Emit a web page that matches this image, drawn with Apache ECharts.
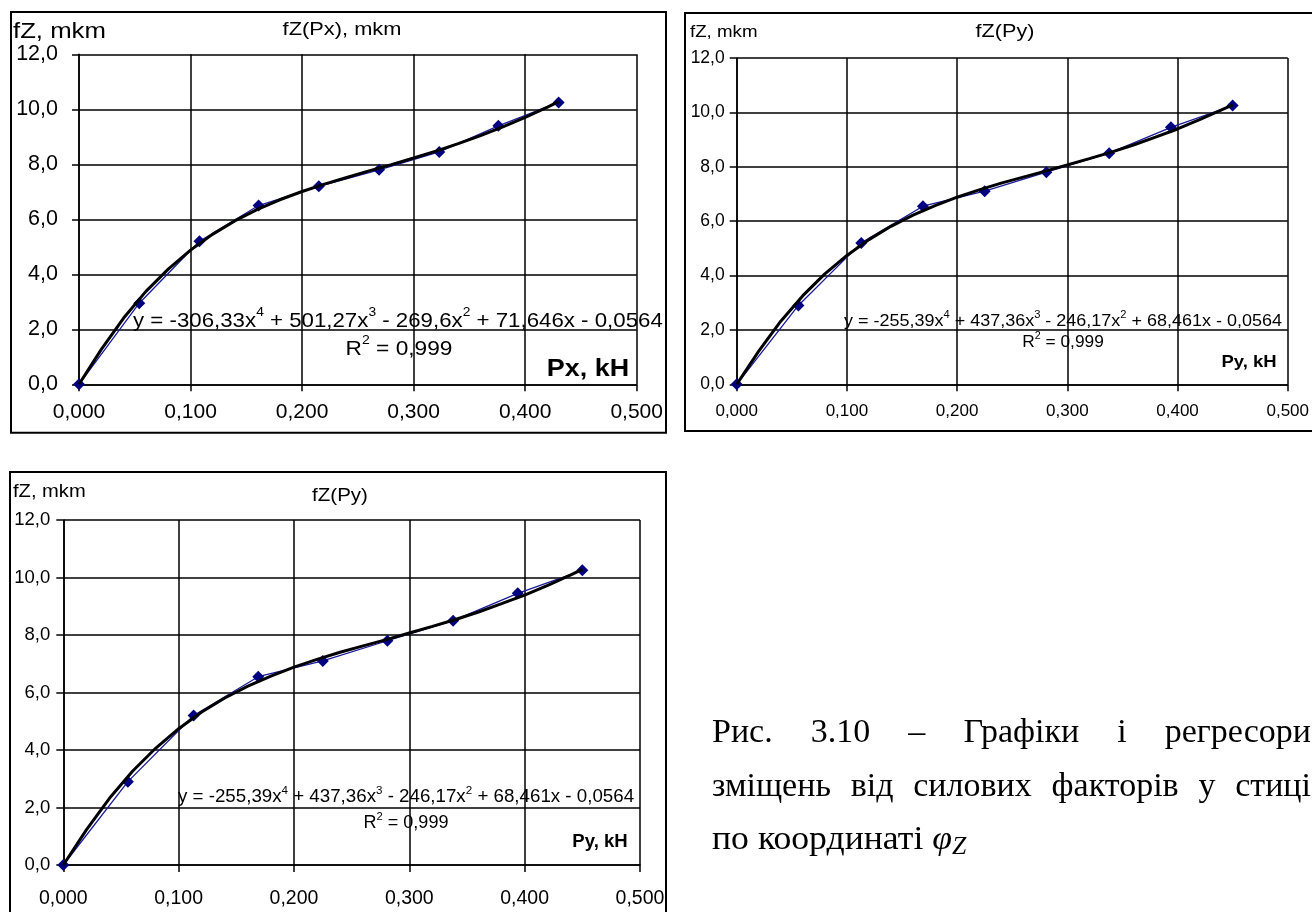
<!DOCTYPE html>
<html><head><meta charset="utf-8">
<script src="https://cdn.jsdelivr.net/npm/echarts@6/dist/echarts.min.js"></script>
<style>html,body{margin:0;padding:0;background:#fff}#c{width:1312px;height:912px}</style>
</head><body><div id="c"></div>
<script>
// ---------- DATA ----------
const xTickLabels = ['0,000', '0,100', '0,200', '0,300', '0,400', '0,500'];
const yTickLabels = ['0,0', '2,0', '4,0', '6,0', '8,0', '10,0', '12,0'];

// Chart 1: fZ(Px)
const px1 = [0, 0.054, 0.108, 0.161, 0.215, 0.269, 0.323, 0.376, 0.430];
const fz1 = [0, 2.95, 5.2, 6.5, 7.2, 7.8, 8.45, 9.4, 10.25];
const trendX1 = [0, 0.02, 0.04, 0.06, 0.08, 0.10, 0.12, 0.14, 0.16, 0.18, 0.20, 0.22, 0.24, 0.26, 0.28, 0.30, 0.32, 0.34, 0.36, 0.38, 0.40, 0.42, 0.43];
const trendY1 = [0, 1.27, 2.41, 3.38, 4.19, 4.88, 5.46, 5.95, 6.36, 6.71, 7.01, 7.28, 7.52, 7.76, 7.99, 8.23, 8.48, 8.75, 9.04, 9.36, 9.71, 10.08, 10.28];

// Chart 2 and 3: fZ(Py)
const py2 = [0, 0.056, 0.113, 0.169, 0.225, 0.281, 0.338, 0.394, 0.450];
const fz2 = [0, 2.9, 5.2, 6.55, 7.1, 7.8, 8.5, 9.45, 10.25];
const trendX2 = [0, 0.02, 0.04, 0.06, 0.08, 0.10, 0.12, 0.14, 0.16, 0.18, 0.20, 0.22, 0.24, 0.26, 0.28, 0.30, 0.32, 0.34, 0.36, 0.38, 0.40, 0.42, 0.44, 0.45];
const trendY2 = [0, 1.22, 2.32, 3.26, 4.06, 4.74, 5.32, 5.81, 6.22, 6.57, 6.88, 7.15, 7.40, 7.62, 7.84, 8.07, 8.30, 8.54, 8.80, 9.09, 9.39, 9.73, 10.09, 10.28];
const py3 = py2;
const fz3 = fz2;
const trendX3 = trendX2;
const trendY3 = trendY2;

const eq1 = ['y = -306,33x', '4', ' + 501,27x', '3', ' - 269,6x', '2', ' + 71,646x - 0,0564'];
const eq2 = ['y = -255,39x', '4', ' + 437,36x', '3', ' - 246,17x', '2', ' + 68,461x - 0,0564'];
const r2Text = '0,999';

const captionLine1 = ['Рис.', '3.10', '–', 'Графіки', 'і', 'регресори'];
const captionLine2 = ['зміщень', 'від', 'силових', 'факторів', 'у', 'стиці'];
const captionLine3 = 'по координаті ';

// ---------- LAYOUT ----------
const SANS = '"Liberation Sans", Arial, sans-serif';
const SERIF = '"Liberation Serif", "Times New Roman", serif';
const pairs = (xs, ys) => xs.map((x, i) => [x, ys[i]]);
const xFmt = v => xTickLabels[Math.round(v * 10)];
const yFmt = v => yTickLabels[Math.round(v / 2)];

const panels = [
  { grid: { left: 79, top: 54.3, width: 557.7, height: 330 }, xt: 21, yt: 21.5, ym: 21, xm: 17 },
  { grid: { left: 736.7, top: 58, width: 551.6, height: 326.3 }, xt: 17, yt: 17.5, ym: 12, xm: 19 },
  { grid: { left: 63.3, top: 520, width: 576.7, height: 345 }, xt: 19.5, yt: 18.5, ym: 13, xm: 24 }
];

const grids = panels.map(p => Object.assign({ containLabel: false }, p.grid));
const xAxes = panels.map((p, i) => ({
  type: 'value', gridIndex: i, min: 0, max: 0.5, interval: 0.1,
  axisLine: { show: true, lineStyle: { color: '#000', width: 1.5 } },
  axisTick: { show: true, inside: false, length: 7, lineStyle: { color: '#000', width: 1.5 } },
  splitLine: { show: true, lineStyle: { color: '#000', width: 1.5 } },
  axisLabel: { formatter: xFmt, color: '#000', fontSize: p.xt, fontFamily: SANS, margin: p.xm, showMaxLabel: true, showMinLabel: true }
}));
const yAxes = panels.map((p, i) => ({
  type: 'value', gridIndex: i, min: 0, max: 12, interval: 2,
  axisLine: { show: true, lineStyle: { color: '#000', width: 1.5 } },
  axisTick: { show: true, inside: false, length: 7, lineStyle: { color: '#000', width: 1.5 } },
  splitLine: { show: true, lineStyle: { color: '#000', width: 1.5 } },
  axisLabel: { formatter: yFmt, color: '#000', fontSize: p.yt, fontFamily: SANS, margin: p.ym, showMaxLabel: true, showMinLabel: true }
}));

function dataSeries(i, xs, ys) {
  return {
    type: 'line', xAxisIndex: i, yAxisIndex: i, data: pairs(xs, ys),
    lineStyle: { color: '#1a1a9a', width: 1.3 }, itemStyle: { color: '#000080' },
    symbol: 'diamond', symbolSize: 12, showSymbol: true, z: 3, silent: true
  };
}
function trendSeries(i, xs, ys) {
  return {
    type: 'line', xAxisIndex: i, yAxisIndex: i, data: pairs(xs, ys),
    lineStyle: { color: '#000', width: 3 }, symbol: 'none', z: 4, silent: true
  };
}

function eqRich(parts) {
  let s = '';
  parts.forEach((p, k) => { s += (k % 2 === 1) ? '{sup|' + p + '}' : '{n|' + p + '}'; });
  return s;
}
function richStyle(size) {
  return {
    n: { fontSize: size, fontFamily: SANS, fill: '#000', lineHeight: size * 1.2, verticalAlign: 'bottom' },
    sup: { fontSize: size * 0.62, fontFamily: SANS, fill: '#000', lineHeight: size * 1.2, verticalAlign: 'top' }
  };
}
function eqText(parts, x, y, size, sx) {
  return {
    type: 'text', x: x, y: y, z: 10, scaleX: sx || 1,
    style: { text: eqRich(parts), align: 'left', verticalAlign: 'middle', rich: richStyle(size) }
  };
}
function r2(x, y, size, sx) {
  return {
    type: 'text', x: x, y: y, z: 10, scaleX: sx || 1,
    style: { text: '{n|R}{sup|2}{n| = ' + r2Text + '}', align: 'center', verticalAlign: 'middle', rich: richStyle(size) }
  };
}
function txt(t, x, y, size, align, bold, font, sx) {
  return {
    type: 'text', x: x, y: y, z: 10, scaleX: sx || 1,
    style: { text: t, fontSize: size, fontFamily: font || SANS, fontWeight: bold ? 'bold' : 'normal', fill: '#000', align: align || 'left', verticalAlign: 'middle' }
  };
}
function box(x, y, w, h) {
  return { type: 'rect', z: 1, shape: { x: x, y: y, width: w, height: h }, style: { fill: 'none', stroke: '#000', lineWidth: 2 } };
}

// caption justification
const CAP_SIZE = 34;
const ctx = document.createElement('canvas').getContext('2d');
ctx.font = CAP_SIZE + 'px ' + SERIF;
function justify(words, x0, x1, y) {
  const ws = words.map(w => ctx.measureText(w).width);
  const total = ws.reduce((a, b) => a + b, 0);
  const gap = (x1 - x0 - total) / (words.length - 1);
  let x = x0;
  return words.map((w, k) => { const el = txt(w, x, y, CAP_SIZE, 'left', false, SERIF); x += ws[k] + gap; return el; });
}

const graphics = [
  box(11, 12, 655, 420.7),
  box(685, 13, 640, 418),
  box(10, 472, 656, 450),
  // chart 1 texts
  txt('fZ, mkm', 13, 32, 22, 'left', false, SANS, 1.17),
  txt('fZ(Px), mkm', 342, 30, 18.5, 'center', false, SANS, 1.18),
  eqText(eq1, 133, 319, 21, 1.06),
  r2(399, 347, 21, 1.08),
  txt('Px, kH', 588, 370, 23, 'center', true, SANS, 1.17),
  // chart 2 texts
  txt('fZ, mkm', 690, 32, 17, 'left', false, SANS, 1.1),
  txt('fZ(Py)', 1005, 32, 18, 'center', false, SANS, 1.2),
  eqText(eq2, 844, 320, 16.5, 1.09),
  r2(1063, 341, 16.5, 1.05),
  txt('Py, kH', 1249, 362, 16.5, 'center', true, SANS, 1.12),
  // chart 3 texts
  txt('fZ, mkm', 13, 492, 19, 'left', false, SANS, 1.06),
  txt('fZ(Py)', 340, 496, 19, 'center', false, SANS, 1.08),
  eqText(eq2, 178, 796, 17.5, 1.07),
  r2(406, 822, 17.5, 1.03),
  txt('Py, kH', 600, 842, 17.5, 'center', true, SANS, 1.06)
].concat(justify(captionLine1, 712, 1311, 733))
 .concat(justify(captionLine2, 712, 1311, 787))
 .concat([{
   type: 'text', x: 712, y: 840, z: 10, scaleX: 1.05,
   style: {
     text: '{n|' + captionLine3 + '}{phi|φ}{sub|Z}', align: 'left', verticalAlign: 'middle',
     rich: {
       n: { fontSize: CAP_SIZE, fontFamily: SERIF, fill: '#000', lineHeight: 40, verticalAlign: 'middle' },
       phi: { fontSize: CAP_SIZE, fontFamily: SERIF, fontStyle: 'italic', fill: '#000', lineHeight: 40, verticalAlign: 'middle' },
       sub: { fontSize: CAP_SIZE * 0.72, fontFamily: SERIF, fontStyle: 'italic', fill: '#000', lineHeight: 40, verticalAlign: 'bottom' }
     }
   }
 }]);

const chart = echarts.init(document.getElementById('c'), null, { renderer: 'canvas' });
chart.setOption({
  animation: false,
  backgroundColor: '#fff',
  grid: grids,
  xAxis: xAxes,
  yAxis: yAxes,
  series: [
    dataSeries(0, px1, fz1), trendSeries(0, trendX1, trendY1),
    dataSeries(1, py2, fz2), trendSeries(1, trendX2, trendY2),
    dataSeries(2, py3, fz3), trendSeries(2, trendX3, trendY3)
  ],
  graphic: graphics
});
</script></body></html>
